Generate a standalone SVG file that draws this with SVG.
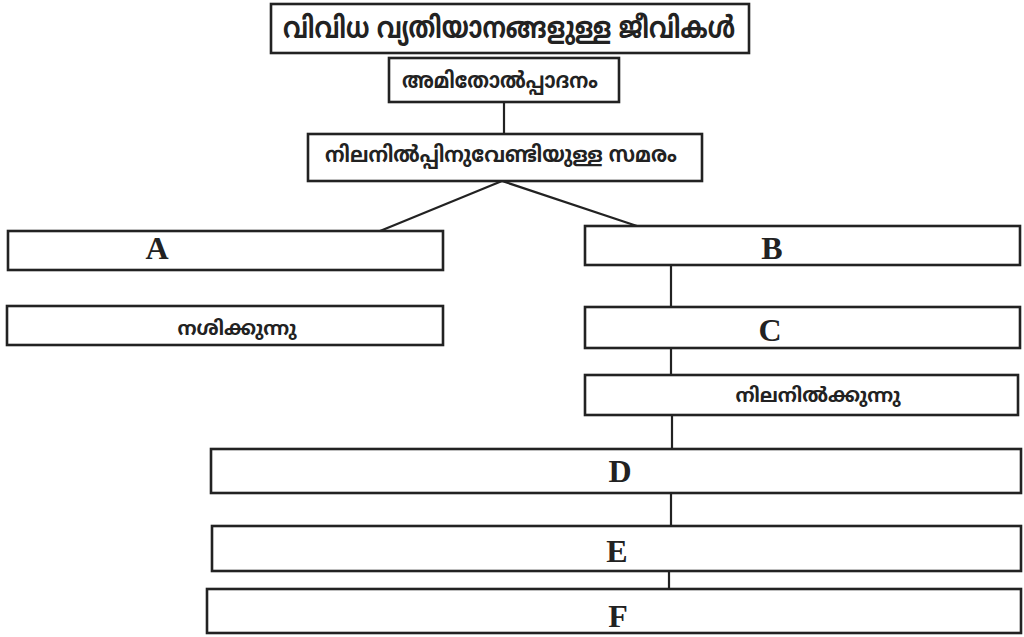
<svg xmlns="http://www.w3.org/2000/svg" width="1024" height="637" viewBox="0 0 1024 637">
<style>
.box{fill:#fff;stroke:#222;stroke-width:2.6}
.ml{font-family:"Noto Sans Malayalam","Noto Sans","DejaVu Sans",sans-serif;font-weight:bold;fill:#222;text-anchor:middle}
.lt{font-family:"Liberation Serif","Times New Roman",serif;font-weight:bold;font-size:32px;fill:#222;text-anchor:middle}
.con line{stroke:#222;stroke-width:2.2}
</style>
<rect width="1024" height="637" fill="#fff"/>
<g class="con" id="connectors">
<line x1="504" y1="102" x2="504" y2="134"/>
<line x1="502" y1="181" x2="380" y2="231"/>
<line x1="502" y1="181" x2="637" y2="226"/>
<line x1="671" y1="265" x2="671" y2="307"/>
<line x1="671" y1="348" x2="671" y2="375"/>
<line x1="672" y1="415" x2="672" y2="449"/>
<line x1="671" y1="493" x2="671" y2="526"/>
<line x1="669" y1="571" x2="669" y2="589"/>
</g>
<g id="n-title"><rect class="box" x="271" y="4" width="478" height="49" stroke-width="3"/><text class="ml" x="509" y="38" font-size="30" font-weight="normal" textLength="452" lengthAdjust="spacingAndGlyphs">വിവിധ വ്യതിയാനങ്ങളുള്ള ജീവികൾ</text></g>
<g id="n-amithol"><rect class="box" x="389" y="58" width="230" height="44"/><text class="ml" x="500" y="88" font-size="22" textLength="196" lengthAdjust="spacingAndGlyphs">അമിതോൽപ്പാദനം</text></g>
<g id="n-samaram"><rect class="box" x="308" y="134" width="394" height="47"/><text class="ml" x="501" y="162" font-size="22" textLength="352" lengthAdjust="spacingAndGlyphs">നിലനിൽപ്പിനുവേണ്ടിയുള്ള സമരം</text></g>
<g id="n-A"><rect class="box" x="8" y="231" width="435" height="39"/><text class="lt" x="157" y="259">A</text></g>
<g id="n-nashikkunnu"><rect class="box" x="7" y="306" width="436" height="39"/><text class="ml" x="237" y="335" font-size="20" textLength="119" lengthAdjust="spacingAndGlyphs">നശിക്കുന്നു</text></g>
<g id="n-B"><rect class="box" x="585" y="226" width="435" height="39"/><text class="lt" x="772" y="259">B</text></g>
<g id="n-C"><rect class="box" x="585" y="307" width="435" height="41"/><text class="lt" x="770" y="341">C</text></g>
<g id="n-nilanilkkunnu"><rect class="box" x="585" y="375" width="433" height="40"/><text class="ml" x="818" y="402" font-size="20" textLength="165" lengthAdjust="spacingAndGlyphs">നിലനിൽക്കുന്നു</text></g>
<g id="n-D"><rect class="box" x="211" y="449" width="810" height="44"/><text class="lt" x="620" y="482">D</text></g>
<g id="n-E"><rect class="box" x="212" y="526" width="809" height="45"/><text class="lt" x="617" y="562">E</text></g>
<g id="n-F"><rect class="box" x="207" y="589" width="814" height="44"/><text class="lt" x="618" y="627">F</text></g>
</svg>
